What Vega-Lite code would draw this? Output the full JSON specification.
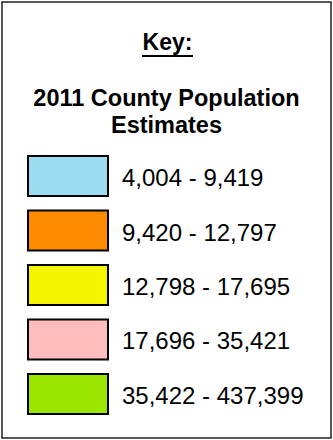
{
  "$schema": "https://vega.github.io/schema/vega-lite/v6.json",
  "width": 333,
  "height": 440,
  "autosize": {"type": "fit", "contains": "padding"},
  "padding": 2,
  "background": "white",
  "config": {"view": {"stroke": "#222222", "strokeWidth": 1.5}, "font": "Liberation Sans"},
  "resolve": {"scale": {"x": "independent", "y": "independent"}},
  "layer": [
    {
      "data": {"values": [
        {"range": "4,004 - 9,419"},
        {"range": "9,420 - 12,797"},
        {"range": "12,798 - 17,695"},
        {"range": "17,696 - 35,421"},
        {"range": "35,422 - 437,399"}
      ]},
      "encoding": {
        "y": {"field": "range", "type": "nominal", "sort": null, "axis": null,
              "scale": {"type": "band", "range": [154, 412], "paddingInner": 0.266, "paddingOuter": 0}}
      },
      "layer": [
        {
          "mark": {"type": "rect", "stroke": "black", "strokeWidth": 2},
          "encoding": {
            "x": {"datum": "swatch", "type": "nominal", "axis": null,
                  "scale": {"type": "band", "domain": ["swatch", "label"], "range": [26, 200], "paddingInner": 0.149, "paddingOuter": 0}},
            "color": {"field": "range", "type": "nominal", "legend": null,
                      "scale": {"domain": ["4,004 - 9,419", "9,420 - 12,797", "12,798 - 17,695", "17,696 - 35,421", "35,422 - 437,399"],
                                "range": ["#9bdcf0", "#ff8c00", "#f5f500", "#ffbdbd", "#9be600"]}}
          }
        },
        {
          "mark": {"type": "text", "align": "left", "baseline": "alphabetic", "dy": 10, "fontSize": 24, "color": "black"},
          "encoding": {
            "x": {"datum": "label", "type": "nominal", "bandPosition": 0, "axis": null,
                  "scale": {"type": "band", "domain": ["swatch", "label"], "range": [26, 200], "paddingInner": 0.149, "paddingOuter": 0}},
            "text": {"field": "range"}
          }
        }
      ]
    },
    {
      "data": {"values": [{"heading": "2011 County Population"}, {"heading": "Estimates"}]},
      "mark": {"type": "text", "fontSize": 23.5, "fontWeight": "bold", "baseline": "alphabetic", "align": "center", "color": "black"},
      "encoding": {
        "y": {"field": "heading", "type": "nominal", "sort": null, "axis": null,
              "scale": {"type": "point", "range": [104, 131], "padding": 0}},
        "text": {"field": "heading"}
      }
    },
    {
      "data": {"values": [{"key": "Key:"}]},
      "encoding": {
        "x": {"field": "key", "type": "nominal", "axis": null,
              "scale": {"type": "band", "range": [140, 191], "paddingInner": 0, "paddingOuter": 0}},
        "y": {"field": "key", "type": "nominal", "axis": null,
              "scale": {"type": "band", "range": [53, 55], "paddingInner": 0, "paddingOuter": 0}}
      },
      "layer": [
        {"mark": {"type": "rect", "color": "black"}},
        {"mark": {"type": "text", "fontSize": 23, "fontWeight": "bold", "baseline": "alphabetic", "align": "center", "dy": -6, "color": "black"},
         "encoding": {"text": {"field": "key"}}}
      ]
    }
  ]
}
